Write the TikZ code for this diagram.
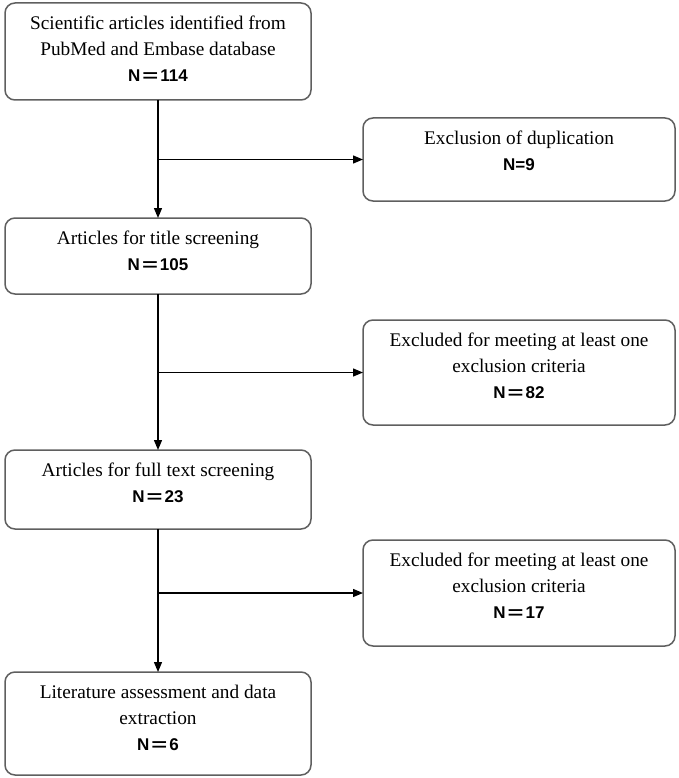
\documentclass[tikz,border=0pt]{standalone}
\usepackage{fontspec}
\setmainfont{Liberation Serif}
\setsansfont{Liberation Sans}
\usepackage{graphicx}
\usetikzlibrary{arrows.meta}
\definecolor{boxgray}{HTML}{5F5F5F}
\newcommand{\weq}{\kern2pt\scalebox{1.6}[1]{=}\kern2pt}
\newcommand{\nlab}[1]{{\fontsize{17}{26}\selectfont\sffamily\bfseries #1}}
\begin{document}
\begin{tikzpicture}[x=1pt,y=-1pt,
  box/.style={draw=boxgray, line width=1.5pt, rounded corners=10pt, inner sep=0pt, outer sep=0pt},
  lbox/.style={box, minimum width=306pt},
  rbox/.style={box, minimum width=312pt},
  txt/.style={anchor=north, align=center, inner sep=0pt, font=\fontsize{19.3}{26}\selectfont},
  arr/.style={line width=1.3pt, -{Triangle[length=10pt,width=8pt]}},
]
\useasboundingbox (0,0) rectangle (678,778);

\node[lbox, minimum height=97pt]  (b1) at (158,51.5) {};
\node[rbox, minimum height=83pt]  (b2) at (519,159.5) {};
\node[lbox, minimum height=76pt]  (b3) at (158,256) {};
\node[rbox, minimum height=105pt] (b4) at (519,372.5) {};
\node[lbox, minimum height=79pt]  (b5) at (158,489.5) {};
\node[rbox, minimum height=106pt] (b6) at (519,593) {};
\node[lbox, minimum height=103pt] (b7) at (158,723.5) {};

\node[txt] (t1) at ([yshift=-13pt]b1.north) {Scientific articles identified from\\PubMed and Embase database\\\nlab{N\weq114}};
\node[txt] (t2) at ([yshift=-13pt]b2.north) {Exclusion of duplication\\\nlab{N=9}};
\node[txt] (t3) at ([yshift=-13pt]b3.north) {Articles for title screening\\\nlab{N\weq105}};
\node[txt] (t4) at ([yshift=-13pt]b4.north) {Excluded for meeting at least one\\exclusion criteria\\\nlab{N\weq82}};
\node[txt] (t5) at ([yshift=-13pt]b5.north) {Articles for full text screening\\\nlab{N\weq23}};
\node[txt] (t6) at ([yshift=-13pt]b6.north) {Excluded for meeting at least one\\exclusion criteria\\\nlab{N\weq17}};
\node[txt] (t7) at ([yshift=-13pt]b7.north) {Literature assessment and data\\extraction\\\nlab{N\weq6}};

\draw[arr] (b1.south) -- (b3.north);
\draw[arr] (b1.south |- b2.west) -- (b2.west);
\draw[arr] (b3.south) -- (b5.north);
\draw[arr] (b3.south |- b4.west) -- (b4.west);
\draw[arr] (b5.south) -- (b7.north);
\draw[arr] (b5.south |- b6.west) -- (b6.west);
\end{tikzpicture}
\end{document}
